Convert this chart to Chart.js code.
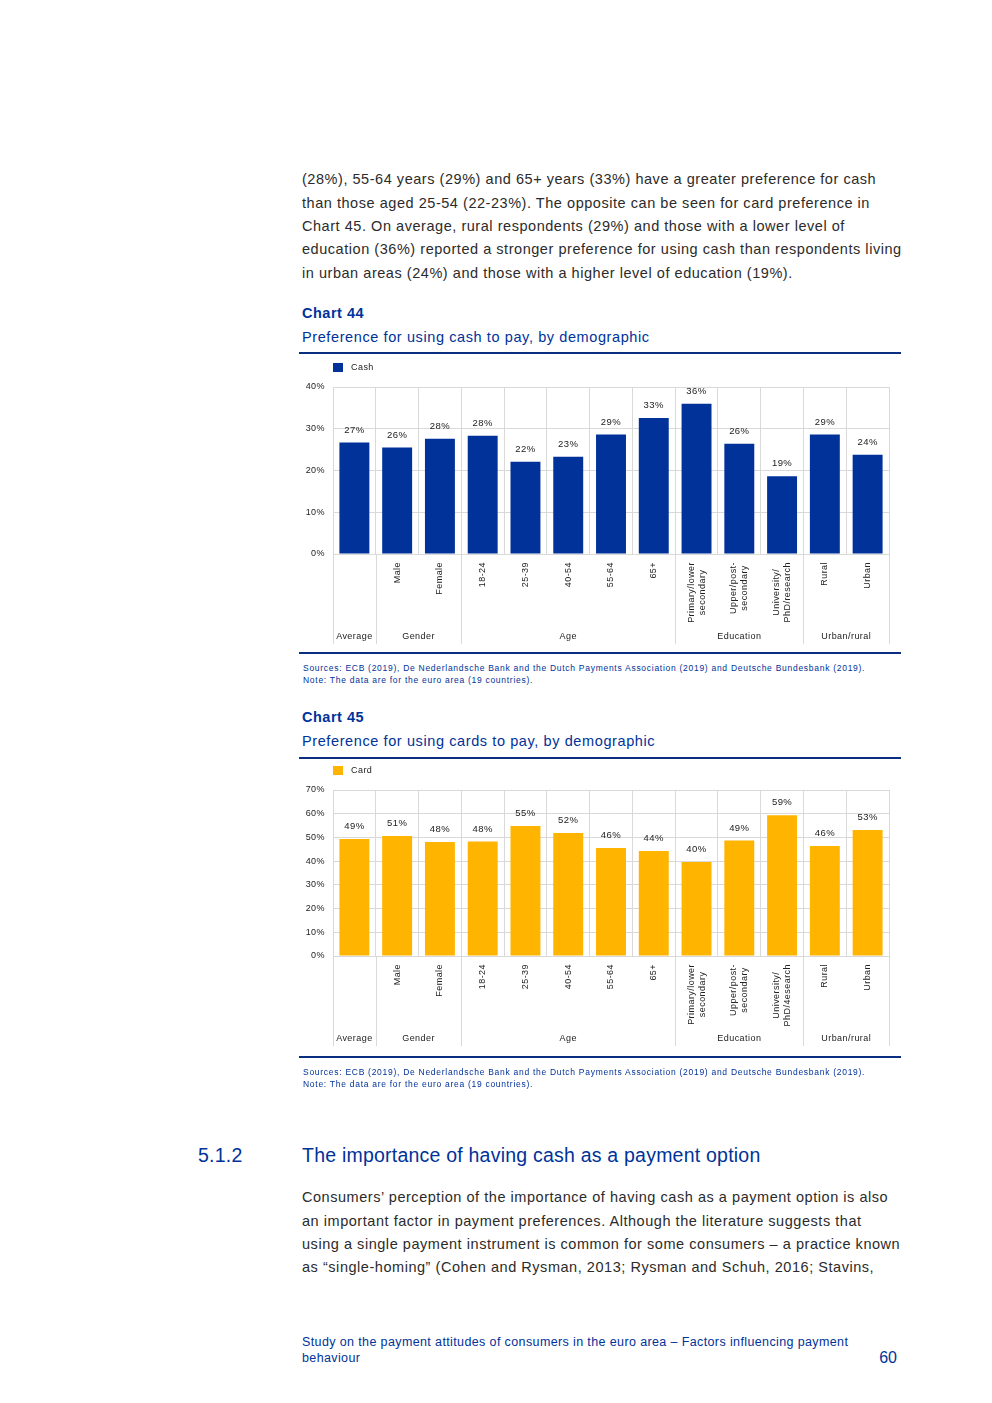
<!DOCTYPE html>
<html>
<head>
<meta charset="utf-8">
<script src="https://cdn.jsdelivr.net/npm/chart.js@4.4.1/dist/chart.umd.min.js"></script>
<style>
  html, body { margin: 0; padding: 0; background: #fff; }
  body { width: 992px; height: 1403px; position: relative; overflow: hidden;
         font-family: "Liberation Sans", Arial, sans-serif; }
  .abs { position: absolute; white-space: nowrap; }
  .para { left: 302px; font-size: 14.5px; line-height: 23.3px; color: #2b2b2b; letter-spacing: 0.54px; }
  .ctitle { left: 302px; font-size: 14.5px; line-height: 18px; color: #003299; font-weight: bold; letter-spacing: 0.5px; }
  .csub { left: 302px; font-size: 14.5px; line-height: 18px; color: #003299; letter-spacing: 0.6px; }
  .rule { left: 299px; width: 602px; height: 2px; background: #0b2f80; }
  .src { left: 303px; font-size: 8.5px; line-height: 12px; color: #003299; letter-spacing: 0.72px; }
  .box { position: absolute; left: 300px; width: 600px; height: 300px; }
  .head { font-size: 19.5px; line-height: 24px; color: #003299; letter-spacing: 0.22px; }
  .foot { left: 302px; font-size: 12.5px; line-height: 16px; color: #003299; letter-spacing: 0.38px; }
</style>
</head>
<body>

<div class="abs para" style="top:168.4px">(28%), 55-64 years (29%) and 65+ years (33%) have a greater preference for cash<br>than those aged 25-54 (22-23%). The opposite can be seen for card preference in<br>Chart 45. On average, rural respondents (29%) and those with a lower level of<br>education (36%) reported a stronger preference for using cash than respondents living<br>in urban areas (24%) and those with a higher level of education (19%).</div>

<div class="abs ctitle" style="top:304px">Chart 44</div>
<div class="abs csub" style="top:328px">Preference for using cash to pay, by demographic</div>
<div class="abs rule" style="top:352px"></div>
<div class="box" style="top:350px"><canvas id="cash-chart"></canvas></div>
<div class="abs rule" style="top:652px"></div>
<div class="abs src" style="top:662px">Sources: ECB (2019), De Nederlandsche Bank and the Dutch Payments Association (2019) and Deutsche Bundesbank (2019).<br>Note: The data are for the euro area (19 countries).</div>

<div class="abs ctitle" style="top:708px">Chart 45</div>
<div class="abs csub" style="top:732px">Preference for using cards to pay, by demographic</div>
<div class="abs rule" style="top:757px"></div>
<div class="box" style="top:760px"><canvas id="card-chart"></canvas></div>
<div class="abs rule" style="top:1056px"></div>
<div class="abs src" style="top:1066px">Sources: ECB (2019), De Nederlandsche Bank and the Dutch Payments Association (2019) and Deutsche Bundesbank (2019).<br>Note: The data are for the euro area (19 countries).</div>

<div class="abs head" style="left:198px;top:1143px">5.1.2</div>
<div class="abs head" style="left:302px;top:1143px">The importance of having cash as a payment option</div>

<div class="abs para" style="top:1186.4px">Consumers’ perception of the importance of having cash as a payment option is also<br>an important factor in payment preferences. Although the literature suggests that<br>using a single payment instrument is common for some consumers – a practice known<br>as “single-homing” (Cohen and Rysman, 2013; Rysman and Schuh, 2016; Stavins,</div>

<div class="abs foot" style="top:1334px">Study on the payment attitudes of consumers in the euro area – Factors influencing payment<br>behaviour</div>
<div class="abs" style="right:95px;top:1349px;font-size:16px;line-height:18px;color:#003299">60</div>

<script>
// categories (tick labels; the first one, "Average", only has a group label)
const cashLabels = ["", "Male", "Female", "18-24", "25-39", "40-54", "55-64", "65+",
  ["Primary/lower", "secondary"], ["Upper/post-", "secondary"], ["University/", "PhD/research"],
  "Rural", "Urban"];
const cardLabels = ["", "Male", "Female", "18-24", "25-39", "40-54", "55-64", "65+",
  ["Primary/lower", "secondary"], ["Upper/post-", "secondary"], ["University/", "PhD/4esearch"],
  "Rural", "Urban"];

const groupNames = ["Average", "Gender", "Age", "Education", "Urban/rural"];
const groupSizes = [1, 2, 5, 3, 2];

// percentages
const cashValues = [26.7, 25.5, 27.6, 28.3, 22.1, 23.3, 28.6, 32.6, 36.0, 26.4, 18.6, 28.6, 23.8];
const cardValues = [49.3, 50.6, 48.1, 48.3, 54.8, 51.9, 45.5, 44.3, 39.6, 48.7, 59.4, 46.4, 53.1];

const cashMax = 40;
const cardMax = 70;

const FONT = "'Liberation Sans', Arial, sans-serif";
const GRID = "#d9d9d9";
const INK = "#222";

const decor = {
  id: "decor",
  beforeDraw(chart) {
    chart.ctx.letterSpacing = "0.45px";
  },
  afterDraw(chart) {
    const ctx = chart.ctx;
    const x = chart.scales.x;
    const area = chart.chartArea;
    const ds = chart.data.datasets[0];
    const meta = chart.getDatasetMeta(0);
    const n = chart.data.labels.length;
    const step = (x.right - x.left) / n;

    ctx.save();
    ctx.letterSpacing = "0.45px";
    ctx.font = "9px " + FONT;

    // legend
    ctx.fillStyle = ds.backgroundColor;
    ctx.fillRect(area.left, area.top - 24, 10, 9);
    ctx.fillStyle = INK;
    ctx.textAlign = "left";
    ctx.textBaseline = "middle";
    ctx.fillText(ds.label, area.left + 18, area.top - 19.5);

    // value labels
    ctx.textAlign = "center";
    ctx.font = "9.5px " + FONT;
    meta.data.forEach((bar, i) => {
      ctx.fillText(Math.round(ds.data[i]) + "%", bar.x, bar.y - 12.5);
    });
    ctx.font = "9px " + FONT;

    // rotated category labels
    chart.data.labels.forEach((lab, i) => {
      const lines = Array.isArray(lab) ? lab : [lab];
      if (!lines[0]) return;
      const w = Math.max(...lines.map((l) => ctx.measureText(l).width));
      ctx.save();
      ctx.translate(x.getPixelForValue(i), area.bottom + 8 + w / 2);
      ctx.rotate(-Math.PI / 2);
      lines.forEach((l, j) => ctx.fillText(l, 0, (j - (lines.length - 1) / 2) * 11));
      ctx.restore();
    });

    // group separators and names
    ctx.strokeStyle = GRID;
    ctx.lineWidth = 1;
    let k = 0;
    const edge = (idx) => Math.round(x.left + idx * step) + 0.5;
    ctx.beginPath();
    ctx.moveTo(edge(0), area.bottom);
    ctx.lineTo(edge(0), area.bottom + 90);
    groupSizes.forEach((size, g) => {
      const a = k, b = k + size;
      ctx.moveTo(edge(b), area.bottom);
      ctx.lineTo(edge(b), area.bottom + 90);
      ctx.fillText(groupNames[g], x.left + (a + b) / 2 * step, area.bottom + 83);
      k = b;
    });
    ctx.stroke();
    ctx.restore();
  },
};

function makeChart(id, labels, values, name, color, max, padTop, padBottom) {
  return new Chart(document.getElementById(id), {
    type: "bar",
    data: {
      labels,
      datasets: [{
        label: name,
        data: values,
        backgroundColor: color,
        borderWidth: 0,
        barPercentage: 0.7,
        categoryPercentage: 1,
      }],
    },
    options: {
      responsive: true,
      maintainAspectRatio: false,
      animation: false,
      layout: { padding: { top: padTop, bottom: padBottom, right: 11, left: 0 } },
      plugins: { legend: { display: false }, tooltip: { enabled: false } },
      scales: {
        x: {
          ticks: { display: false },
          grid: { color: GRID, drawTicks: false, offset: true },
          border: { color: GRID },
          afterFit: (s) => { s.height = 0; },
        },
        y: {
          min: 0,
          max,
          ticks: { stepSize: 10, padding: 8, color: INK, font: { size: 9, family: FONT },
                   callback: (v) => v + "%" },
          grid: { color: GRID, drawTicks: false },
          border: { color: GRID },
          afterFit: (s) => { s.width = 33; },
        },
      },
    },
    plugins: [decor],
  });
}

makeChart("cash-chart", cashLabels, cashValues, "Cash", "#003299", cashMax, 37, 96);
makeChart("card-chart", cardLabels, cardValues, "Card", "#FFB400", cardMax, 30, 104);
</script>
</body>
</html>
